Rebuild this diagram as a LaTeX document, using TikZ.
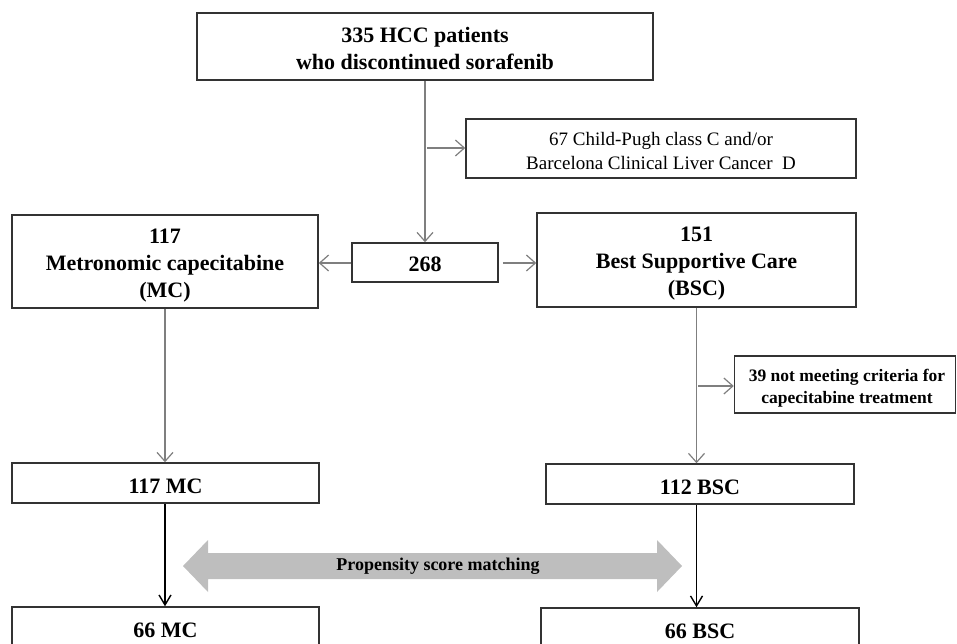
\documentclass[tikz,border=0pt]{standalone}
\usepackage{fontspec}
\setmainfont{Liberation Serif}
\usetikzlibrary{arrows.meta}
\definecolor{boxline}{HTML}{333333}
\definecolor{conline}{HTML}{7F7F7F}
\definecolor{psmfill}{HTML}{BEBEBE}
\tikzset{
  flowbox/.style={draw=boxline, line width=1.5pt, fill=white, inner sep=0pt},
  boxtext/.style={inner sep=0pt, align=center},
  bigtext/.style={font=\bfseries\fontsize{22}{27}\selectfont},
  smalltext/.style={font=\fontsize{19}{24}\selectfont},
  midtext/.style={font=\bfseries\fontsize{17.5}{22}\selectfont},
  greyarrow/.style={draw=conline, line width=1.2pt, -{Straight Barb[length=9pt,width=16pt,line width=1.2pt]}},
  blackarrow/.style={draw=black, line width=1.5pt, -{Straight Barb[length=10pt,width=12pt,line width=1.4pt]}}
}
\begin{document}
\begin{tikzpicture}[x=1pt,y=-1pt]
\useasboundingbox (0,0) rectangle (957,643);
\clip (0,0) rectangle (957,643);
% boxes
\node[flowbox, minimum width=456pt, minimum height=67pt] (top) at (425,46.5) {};
\node[flowbox, minimum width=390pt, minimum height=59pt] (excl1) at (661,148.5) {};
\node[flowbox, minimum width=306pt, minimum height=93pt] (left) at (165,261.5) {};
\node[flowbox, minimum width=146pt, minimum height=39pt] (n268) at (425,262.5) {};
\node[flowbox, minimum width=319pt, minimum height=94pt] (right) at (696.5,260) {};
\node[flowbox, minimum width=221pt, minimum height=57pt] (excl2) at (845,384.5) {};
\node[flowbox, minimum width=307pt, minimum height=40pt] (mc117) at (165.5,483) {};
\node[flowbox, minimum width=308pt, minimum height=40pt] (bsc112) at (700,484) {};
\node[flowbox, minimum width=307pt, minimum height=40pt] (mc66) at (165.5,627) {};
\node[flowbox, minimum width=318pt, minimum height=40pt] (bsc66) at (700,628) {};
% texts
\node[boxtext, bigtext] (topT) at ([yshift=-2pt]top.center) {335 HCC patients\\who discontinued sorafenib};
\node[boxtext, smalltext] (excl1T) at ([yshift=-2pt]excl1.center) {67 Child-Pugh class C and/or\\Barcelona Clinical Liver Cancer\ \ D};
\node[boxtext, bigtext] (leftT) at ([yshift=-4pt]left.center) {117\\Metronomic capecitabine\\(MC)};
\node[boxtext, bigtext] (n268T) at ([yshift=-2pt]n268.center) {268};
\node[boxtext, bigtext] (rightT) at ([yshift=-4pt]right.center) {151\\Best Supportive Care\\(BSC)};
\node[boxtext, midtext] (excl2T) at ([yshift=-4pt,xshift=2pt]excl2.center) {39 not meeting criteria for\\capecitabine treatment};
\node[boxtext, bigtext] (mc117T) at ([yshift=-3pt]mc117.center) {117 MC};
\node[boxtext, bigtext] (bsc112T) at ([yshift=-3pt]bsc112.center) {112 BSC};
\node[boxtext, bigtext] (mc66T) at ([yshift=-3pt]mc66.center) {66 MC};
\node[boxtext, bigtext] (bsc66T) at ([yshift=-3pt]bsc66.center) {66 BSC};
% connectors
\draw[greyarrow] (top.south) -- (n268.north);
\coordinate (j1) at (427,148);
\draw[greyarrow] (j1) -- (j1 -| excl1.west);
\draw[greyarrow] (n268.west |- 0,263) -- (left.east |- 0,263);
\draw[greyarrow] (n268.east |- 0,263) ++(4,0) -- (right.west |- 0,263);
\draw[greyarrow] (left.south) -- (left.south |- mc117.north);
\draw[greyarrow] (right.south) -- (right.south |- bsc112.north);
\coordinate (j2) at (698,386);
\draw[greyarrow] (j2) -- (j2 -| excl2.west);
\draw[blackarrow] (mc117.south -| left.south) -- (left.south |- mc66.north);
\draw[blackarrow] (bsc112.south -| right.south) -- (right.south |- bsc66.north);
% propensity score matching double arrow
\fill[psmfill] (183,566) -- (208,540) -- (208,553) -- (657,553) -- (657,540) -- (682,566) -- (657,592) -- (657,579) -- (208,579) -- (208,592) -- cycle;
\node[font=\bfseries\fontsize{18}{20}\selectfont, inner sep=0pt] (psm) at (438,566) {Propensity score matching};
\end{tikzpicture}
\end{document}
